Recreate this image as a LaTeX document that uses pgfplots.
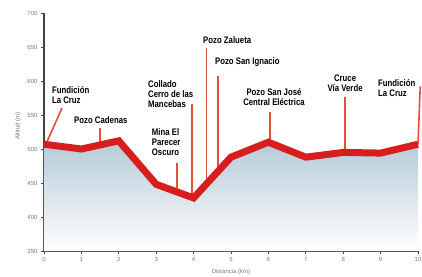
\documentclass[border=0pt]{standalone}
\usepackage{pgfplots}
\pgfplotsset{compat=1.18}
\usepackage{fontspec}
\setmainfont{Liberation Sans}
\newfontfamily\lab[FakeStretch=0.82]{Liberation Sans}
\definecolor{linered}{RGB}{216,30,28}
\definecolor{thinred}{RGB}{226,80,60}
\definecolor{fillblue}{RGB}{180,202,215}
\definecolor{axgrey}{RGB}{70,66,66}
\definecolor{tickgrey}{RGB}{120,120,120}
\tikzset{lbl/.style={font=\lab\bfseries\fontsize{9.5}{10}\selectfont, inner sep=0pt}}
\pgfplotstableread{
x y
0 507
1 500
2 512
3 448
4 428
5 488
6 510
7 488
8 495
9 494
10 507
}\profile
\begin{document}
\begin{tikzpicture}
\begin{axis}[
  scale only axis, width=374pt, height=238pt,
  xmin=0, xmax=10, ymin=350, ymax=700,
  axis lines=left,
  axis line style={axgrey, line width=1.6pt, -},
  xtick={0,1,...,10}, ytick={350,400,...,700},
  tick style={axgrey, line width=0.9pt},
  major tick length=3pt, tick align=outside,
  ticklabel style={font=\fontsize{6}{7}\selectfont, text=tickgrey},
  /pgf/number format/assume math mode=true,
  xlabel={Distancia (km)}, ylabel={Altitud (m)},
  label style={font=\fontsize{6}{7}\selectfont, text=tickgrey},
  x label style={at={(rel axis cs:0.5,0)}, anchor=center, yshift=-21pt},
  y label style={at={(rel axis cs:0,0.525)}, anchor=center, yshift=26pt},
  clip=false,
]
% shaded area
\addplot[draw=none, top color=fillblue, bottom color=white] coordinates {
 (0,350) (0,507) (1,500) (2,512) (3,448) (4,428) (5,488) (6,510) (7,488) (8,495) (9,494) (10,507) (10,350)};
% marker lines
\addplot[thinred, line width=1.6pt] coordinates {(0.05,507) (0.48,560)};
\addplot[thinred, line width=1.6pt] coordinates {(1.5,502) (1.5,531)};
\addplot[thinred, line width=1.6pt] coordinates {(3.55,440) (3.55,480)};
\addplot[thinred, line width=1.6pt] coordinates {(3.95,430) (3.95,566)};
\addplot[thinred, line width=1.6pt] coordinates {(4.35,445) (4.35,648)};
\addplot[thinred, line width=1.6pt] coordinates {(4.65,465) (4.65,607)};
\addplot[thinred, line width=1.6pt] coordinates {(6.05,508) (6.05,554)};
\addplot[thinred, line width=1.6pt] coordinates {(8.05,495) (8.05,576)};
\addplot[thinred, line width=1.6pt] coordinates {(10,507) (10.06,592)};
% profile
\addplot[linered, line width=7pt, line join=miter, miter limit=3] table[x=x,y=y] {\profile};
% labels
\node[lbl, anchor=west, align=left] at (axis cs:0.21,580) {Fundición\\La Cruz};
\node[lbl, anchor=center] at (axis cs:1.52,543) {Pozo Cadenas};
\node[lbl, anchor=west, align=left] at (axis cs:2.78,581) {Collado\\Cerro de las\\Mancebas};
\node[lbl, anchor=west, align=left] at (axis cs:2.88,510) {Mina El\\Parecer\\Oscuro};
\node[lbl, anchor=west] at (axis cs:4.25,660) {Pozo Zalueta};
\node[lbl, anchor=west] at (axis cs:4.57,627.7) {Pozo San Ignacio};
\node[lbl, anchor=center, align=center] at (axis cs:6.15,576) {Pozo San José\\Central Eléctrica};
\node[lbl, anchor=center, align=center] at (axis cs:8.05,596.6) {Cruce\\Vía Verde};
\node[lbl, anchor=west, align=left] at (axis cs:8.93,589) {Fundición\\La Cruz};
\end{axis}
\pgfresetboundingbox
\path (current axis.south west) ++(-44pt,-25pt) rectangle ++(422pt,276pt);
\end{tikzpicture}
\end{document}
